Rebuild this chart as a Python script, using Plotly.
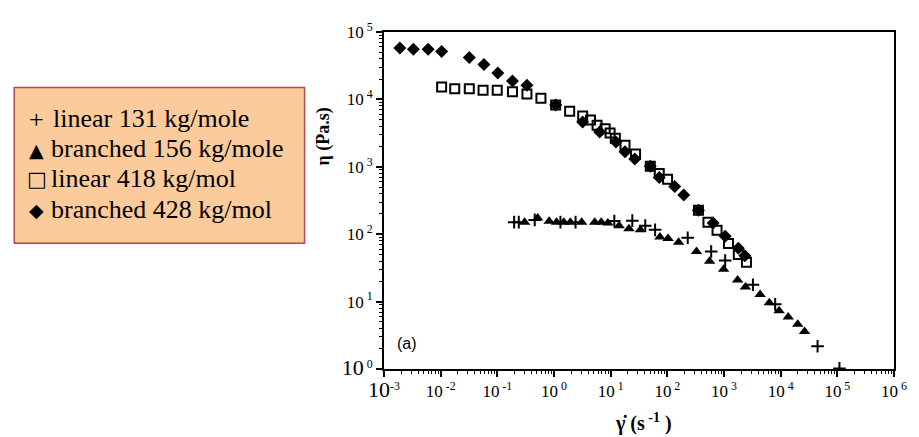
import plotly.graph_objects as go

# ---- data ----
lin131_x = [0.198, 0.239, 0.457, 1.3, 2.4, 11.6, 24.1, 40.8, 60.8, 229, 594, 1050, 3240, 8000, 44800, 109000]
lin131_y = [151, 151, 163, 151, 151, 157, 159, 134, 116, 88.5, 55.5, 40.6, 17.8, 9.1, 2.17, 1.02]

br156_x = [0.303, 0.515, 0.821, 1.11, 1.49, 1.94, 3.08, 5.23, 6.83, 8.91, 14.1, 21.0, 33.5, 74, 103, 158,
           327, 557, 985, 1740, 2390, 4340, 6310, 9380, 13600, 20000, 26400]
br156_y = [151, 174, 156, 151, 151, 151, 151, 151, 151, 146, 134, 120, 116, 91, 86, 76,
           55.5, 39.8, 30.1, 20.9, 16.4, 12.7, 9.6, 7.3, 5.9, 4.6, 3.6]

lin418_x = [0.0104, 0.0177, 0.032, 0.056, 0.0995, 0.185, 0.333, 0.588, 1.07, 1.89, 3.21, 4.41, 5.75, 8.0,
            9.77, 12.1, 17.9, 27.5, 50, 72, 101, 354, 521, 754, 1200, 1790, 2490]
lin418_y = [15300, 14400, 14400, 13700, 13700, 13000, 12000, 10400, 8240, 6680, 5660, 4960, 4140, 3670,
            3170, 2660, 2090, 1550, 1020, 794, 651, 227, 151, 114, 73, 50, 38.5]

br428_x = [0.0019, 0.0033, 0.0060, 0.0104, 0.032, 0.058, 0.102, 0.185, 0.333, 1.07, 3.2, 6.4, 12.4, 17.9,
           26.7, 50, 72, 135, 195, 354, 643, 1050, 1790, 2330]
br428_y = [58000, 55500, 55500, 51400, 41700, 33000, 24700, 18700, 16200, 8240, 4630, 3280, 2330, 1670,
           1310, 1020, 695, 509, 380, 227, 146, 93, 62, 48]

x_exps = [-3, -2, -1, 0, 1, 2, 3, 4, 5, 6]
y_exps = [0, 1, 2, 3, 4, 5]

legend_symbols = ["+", "\u25B2", "\u25A1", "\u25C6"]
legend_labels = ["linear 131 kg/mole", "branched 156 kg/mole", "linear 418 kg/mol", "branched 428 kg/mol"]

SERIF = "Liberation Serif"

# ---- figure ----
fig = go.Figure()
fig.add_trace(go.Scatter(x=lin131_x, y=lin131_y, mode="markers",
                         marker=dict(symbol="cross-thin", size=9, line=dict(width=2, color="black"))))
fig.add_trace(go.Scatter(x=br156_x, y=br156_y, mode="markers",
                         marker=dict(symbol="triangle-up", size=10, color="black")))
fig.add_trace(go.Scatter(x=lin418_x, y=lin418_y, mode="markers",
                         marker=dict(symbol="square-open", size=9, line=dict(width=2, color="black"), color="black")))
fig.add_trace(go.Scatter(x=br428_x, y=br428_y, mode="markers",
                         marker=dict(symbol="diamond", size=10, color="black")))

def xlab(e):
    if e == -3:
        return "<span style='font-size:22px'>10</span><sup>-3</sup>"
    return "10<sup> %d</sup>" % e

def ylab(e):
    if e == 0:
        return "<span style='font-size:22px'>10</span><sup> 0</sup>"
    return "10<sup> %d</sup>" % e

xminor = [m * 10.0 ** e for e in x_exps[:-1] for m in range(2, 10)]
yminor = [m * 10.0 ** e for e in y_exps[:-1] for m in range(2, 10)]

axis_common = dict(type="log", showgrid=False, zeroline=False, showline=True, linecolor="black",
                   linewidth=2, mirror=True, ticks="outside", ticklen=6, tickwidth=1.5, tickcolor="black",
                   tickfont=dict(family=SERIF, size=17, color="black"))

fig.update_xaxes(range=[-3, 6], tickmode="array", tickvals=[10.0 ** e for e in x_exps],
                 ticktext=[xlab(e) for e in x_exps],
                 minor=dict(tickvals=xminor, ticks="outside", ticklen=3, tickwidth=1, tickcolor="black"),
                 **axis_common)
fig.update_yaxes(range=[0, 5], tickmode="array", tickvals=[10.0 ** e for e in y_exps],
                 ticktext=[ylab(e) for e in y_exps],
                 minor=dict(tickvals=yminor, ticks="outside", ticklen=3, tickwidth=1, tickcolor="black"),
                 **axis_common)

# page has an 8px body margin: figure is offset by OFF in both directions
OFF = 8
W, H = 919 - OFF, 437 - OFF
L, R, T, B = 384 - OFF, 15, 23 - OFF, 68
pw, ph = W - L - R, H - T - B

def px(x):
    return (x - OFF - L) / pw

def py(y):
    return (H - B - (y - OFF)) / ph

# legend box
fig.add_shape(type="rect", xref="paper", yref="paper", x0=px(7), x1=px(303), y0=py(240), y1=py(80),
              fillcolor="#FCCB9B", line=dict(color="#B5474A", width=1.5), layer="below")
sym_sizes = [26, 19, 21, 19]
text_x = [44, 42, 42, 42]
for s, ss, t, tx, yy in zip(legend_symbols, sym_sizes, legend_labels, text_x, [112, 143, 173, 205]):
    fig.add_annotation(xref="paper", yref="paper", x=px(30), y=py(yy + 1), xanchor="center", yanchor="middle",
                       text=s, showarrow=False,
                       font=dict(family=SERIF if s == "+" else "DejaVu Sans", size=ss, color="black"))
    fig.add_annotation(xref="paper", yref="paper", x=px(tx), y=py(yy), xanchor="left", yanchor="middle",
                       text=t, showarrow=False,
                       font=dict(family=SERIF, size=26, color="black"))

# axis titles
fig.add_annotation(xref="paper", yref="paper", x=px(322), y=py(130), text="<b>\u03b7 (Pa.s)</b>",
                   textangle=-90, showarrow=False, xanchor="center", yanchor="middle",
                   font=dict(family=SERIF, size=18, color="black"))
fig.add_annotation(xref="paper", yref="paper", x=px(649), y=py(424), text="<b>\u03b3\u0307 (s<sup> -1</sup> )</b>",
                   showarrow=False, xanchor="center", yanchor="middle",
                   font=dict(family=SERIF, size=20, color="black"))
fig.add_annotation(xref="paper", yref="paper", x=px(407), y=py(343), text="(a)",
                   showarrow=False, xanchor="center", yanchor="middle",
                   font=dict(family="Liberation Sans", size=16, color="black"))

fig.update_layout(width=W, height=H, margin=dict(l=L, r=R, t=T, b=B), showlegend=False,
                  plot_bgcolor="white", paper_bgcolor="white")

fig.write_html("out.html")
